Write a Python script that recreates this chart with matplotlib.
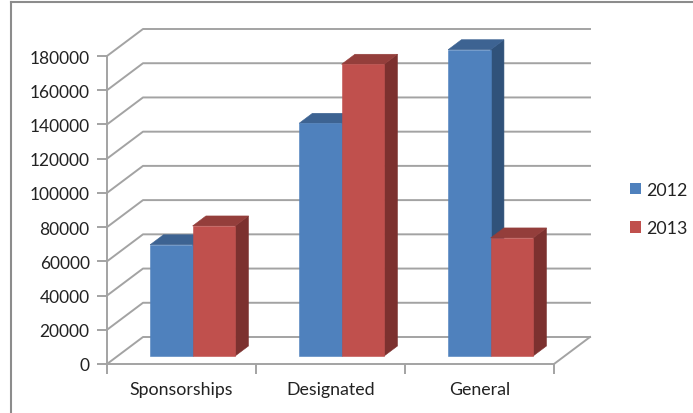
#!/usr/bin/env python3
import matplotlib
matplotlib.use("Agg")
import matplotlib.pyplot as plt
from matplotlib.lines import Line2D
from matplotlib.patches import Polygon, Patch

categories = ["Sponsorships", "Designated", "General"]
series_names = ["2012", "2013"]
values_2012 = [65000, 136000, 179000]
values_2013 = [76000, 170500, 69000]
y_ticks = [0, 20000, 40000, 60000, 80000, 100000, 120000, 140000, 160000, 180000]

FRONT = {"2012": "#4F81BD", "2013": "#C0504D"}
TOP = {"2012": "#3D6392", "2013": "#943E3B"}
SIDE = {"2012": "#30527A", "2013": "#7C312F"}
GRID = "#A3A3A3"

W, H = 693, 414
plt.rcParams["font.family"] = ["Lato", "DejaVu Sans"]


def project(x, y, z):
    # oblique projection: z=0 front plane, z=1 back wall
    return x + z * DX, y + z * DY


fig = plt.figure(figsize=(W / 100, H / 100), dpi=100)
ax = fig.add_axes([107 / W, 1 - 365 / H, (554 - 107) / W, (365 - 57) / H])
ax.set_xlim(0, 3)
ax.set_ylim(0, 180000)
DX = 36 / 149
DY = 27 / 308 * 180000

for s in ["top", "right"]:
    ax.spines[s].set_visible(False)
for s in ["left", "bottom"]:
    ax.spines[s].set_color(GRID)
    ax.spines[s].set_linewidth(1.4)

ax.set_yticks(y_ticks)
ax.set_xticks([0, 1, 2, 3])
ax.set_xticklabels([])
ax.set_xticks([0.5, 1.5, 2.5], categories, minor=True)
ax.tick_params(axis="both", which="major", length=7, width=1.4, color=GRID,
               labelsize=12.5, labelcolor="#222222", pad=5.5)
ax.tick_params(axis="x", which="minor", length=0, labelsize=12.8,
               labelcolor="#222222", pad=12.5)

# walls and floor
for v in y_ticks:
    xs, ys = zip(project(0, v, 0), project(0, v, 1), project(3, v, 1))
    ax.plot(xs, ys, color=GRID, lw=1.4, clip_on=False, zorder=1)
xs, ys = zip(project(3, 0, 0), project(3, 0, 1))
ax.plot(xs, ys, color=GRID, lw=1.4, clip_on=False, zorder=1)

bar_w = 42.5 / 149
z0, z1 = 8 / 27, 18 / 27


def bar(x0, v, name, z):
    x1 = x0 + bar_w
    a, b = project(x0, 0, z0), project(x1, 0, z0)
    c, d = project(x1, v, z0), project(x0, v, z0)
    e, f = project(x1, 0, z1), project(x1, v, z1)
    g = project(x0, v, z1)
    kw = dict(lw=0.4, clip_on=False, zorder=z)
    ax.add_patch(Polygon([b, e, f, c], fc=SIDE[name], ec=SIDE[name], **kw))
    ax.add_patch(Polygon([d, c, f, g], fc=TOP[name], ec=TOP[name], **kw))
    ax.add_patch(Polygon([a, b, c, d], fc=FRONT[name], ec=FRONT[name], **kw))


for i in range(len(categories)):
    x_left = i + 0.503 - bar_w
    bar(x_left, values_2012[i], "2012", 3)
    bar(x_left + bar_w, values_2013[i], "2013", 4)

handles = [Patch(fc=FRONT[n], ec="none", label=n) for n in series_names]
fig.legend(handles=handles, loc="center left", bbox_to_anchor=(614 / W, 1 - 210 / H),
           frameon=False, fontsize=12.8, labelcolor="#222222", handlelength=0.62,
           handleheight=0.62, handletextpad=0.3, labelspacing=1.25)

# outer chart frame
for xs, ys in [([11, 11], [3, H]), ([11, W], [3, 3])]:
    fig.add_artist(Line2D([x / W for x in xs], [1 - y / H for y in ys],
                          color="#8C8C8C", lw=1.5))

fig.savefig("out.png", dpi=100)
